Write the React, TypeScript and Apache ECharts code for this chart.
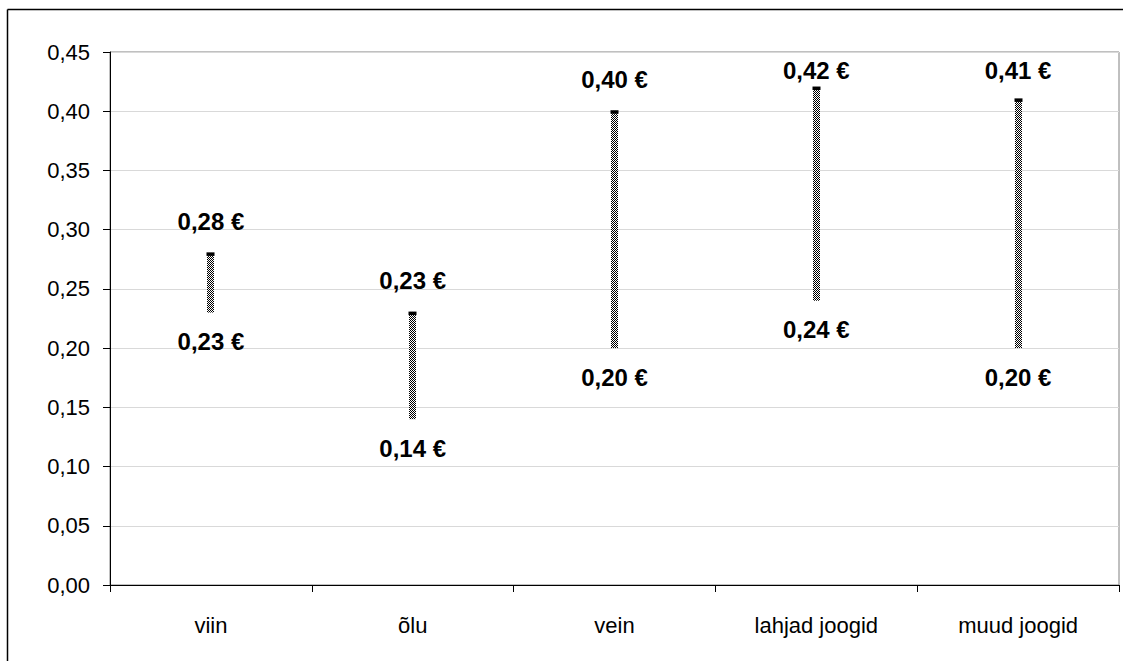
import React, { useEffect, useRef } from "react";
import * as echarts from "echarts";

const categories = ["viin", "õlu", "vein", "lahjad joogid", "muud joogid"];
const lowValues = [0.23, 0.14, 0.2, 0.24, 0.2];
const highValues = [0.28, 0.23, 0.4, 0.42, 0.41];
const yMin = 0;
const yMax = 0.45;
const yStep = 0.05;

const fmt = (v: number) => v.toFixed(2).replace(".", ",");

function makePattern(): HTMLCanvasElement {
  const c = document.createElement("canvas");
  c.width = 2;
  c.height = 2;
  const ctx = c.getContext("2d")!;
  ctx.fillStyle = "#ffffff";
  ctx.fillRect(0, 0, 2, 2);
  ctx.fillStyle = "#000000";
  ctx.fillRect(0, 0, 1, 1);
  ctx.fillRect(1, 1, 1, 1);
  return c;
}

export default function App() {
  const ref = useRef<HTMLDivElement>(null);
  useEffect(() => {
    if (!ref.current) return;
    const chart = echarts.init(ref.current, undefined, { renderer: "svg" });
    const pattern = { image: makePattern(), repeat: "repeat" };
    const font = '"Liberation Sans", Arial, sans-serif';
    const data = categories.map((_, i) => [i, lowValues[i], highValues[i]]);
    chart.setOption({
      animation: false,
      backgroundColor: "#ffffff",
      grid: {
        left: 110,
        right: 4,
        top: 52,
        bottom: 76,
        show: true,
        borderColor: "#808080",
        borderWidth: 1,
      },
      xAxis: {
        type: "category",
        data: categories,
        axisLine: { show: true, lineStyle: { color: "#000", width: 1 } },
        axisTick: { show: true, length: 7, lineStyle: { color: "#000" } },
        axisLabel: { fontSize: 22, color: "#000", margin: 29, fontFamily: font },
        splitLine: { show: false },
      },
      yAxis: {
        type: "value",
        min: yMin,
        max: yMax,
        interval: yStep,
        axisLine: { show: true, lineStyle: { color: "#000", width: 1 } },
        axisTick: { show: true, length: 7, lineStyle: { color: "#000" } },
        axisLabel: {
          fontSize: 22,
          color: "#000",
          margin: 20,
          fontFamily: font,
          formatter: (v: number) => fmt(v),
        },
        splitLine: { show: true, lineStyle: { color: "#d9d9d9", width: 1 } },
      },
      graphic: [
        {
          type: "line",
          shape: { x1: 7.5, y1: 9.5, x2: 7.5, y2: 661 },
          style: { stroke: "#000", lineWidth: 1.5 },
        },
        {
          type: "line",
          shape: { x1: 7.5, y1: 9.5, x2: 1123, y2: 9.5 },
          style: { stroke: "#000", lineWidth: 1.5 },
        },
      ],
      series: [
        {
          type: "custom",
          data,
          renderItem: (params: any, api: any) => {
            const x = api.value(0);
            const lowV = api.value(1);
            const highV = api.value(2);
            const lo = api.coord([x, lowV]);
            const hi = api.coord([x, highV]);
            const w = 7;
            return {
              type: "group",
              children: [
                {
                  type: "rect",
                  shape: { x: Math.round(hi[0] - w / 2), y: hi[1], width: w, height: lo[1] - hi[1] },
                  style: { fill: pattern },
                },
                {
                  type: "rect",
                  shape: { x: Math.round(hi[0] - w / 2) - 0.5, y: hi[1] - 1, width: w + 1, height: 3.5 },
                  style: { fill: "#000" },
                },
                {
                  type: "text",
                  x: hi[0],
                  y: Math.max(hi[1] - 32, 70),
                  style: {
                    text: fmt(highV) + " €",
                    fontSize: 24,
                    fontWeight: "bold",
                    fontFamily: font,
                    fill: "#000",
                    align: "center",
                    verticalAlign: "middle",
                  },
                },
                {
                  type: "text",
                  x: lo[0],
                  y: lo[1] + 29,
                  style: {
                    text: fmt(lowV) + " €",
                    fontSize: 24,
                    fontWeight: "bold",
                    fontFamily: font,
                    fill: "#000",
                    align: "center",
                    verticalAlign: "middle",
                  },
                },
              ],
            };
          },
        },
      ],
    });
    return () => chart.dispose();
  }, []);
  return (
    <div
      ref={ref}
      style={{ position: "absolute", left: 0, top: 0, width: 1123, height: 661 }}
    />
  );
}
